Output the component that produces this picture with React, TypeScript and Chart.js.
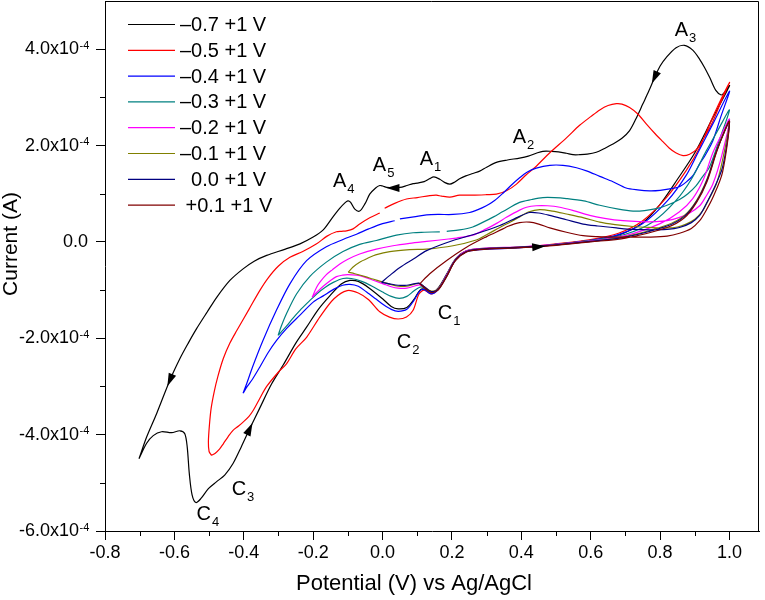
import { useEffect, useRef } from "react";
import { Chart, registerables } from "chart.js";

Chart.register(...registerables);

const FONT = '"Liberation Sans", Arial, Helvetica, sans-serif';
const AMP = 1e-4; // currents in the loops below are in units of 1e-4 A
const EN_SPACE = "\u2002";

type Pt = [number, number | null];

const seriesLabels = ["–0.7 +1 V", "–0.5 +1 V", "–0.4 +1 V", "–0.3 +1 V", "–0.2 +1 V", "–0.1 +1 V", "  0.0 +1 V", " +0.1 +1 V"];
const seriesColors = ["#000000", "#ff0000", "#0000ff", "#008080", "#ff00ff", "#808000", "#000080", "#800000"];

const xTicks = [-0.8, -0.6, -0.4, -0.2, 0, 0.2, 0.4, 0.6, 0.8, 1.0];
const xMinorTicks = [-0.7, -0.5, -0.3, -0.1, 0.1, 0.3, 0.5, 0.7, 0.9];
const yTicks = [-6, -4, -2, 0, 2, 4];
const yMinorTicks = [-5, -3, -1, 1, 3];
const yExponent = "-4";

// each loop: start vertex -> forward branch to +1 V -> reverse branch back to start
const loopM07: Pt[] = [
  [-0.702, -4.5], [-0.68, -4.18], [-0.661, -4.02], [-0.637, -3.94], [-0.608, -3.96], [-0.584, -3.92], [-0.57, -3.98],
  [-0.563, -4.26], [-0.557, -4.81], [-0.549, -5.25], [-0.538, -5.41], [-0.524, -5.33], [-0.502, -5.12], [-0.479, -4.98],
  [-0.455, -4.84], [-0.431, -4.6], [-0.407, -4.25], [-0.383, -3.88], [-0.354, -3.45], [-0.32, -2.95], [-0.286, -2.55],
  [-0.25, -2.1], [-0.219, -1.77], [-0.185, -1.4], [-0.152, -1.12], [-0.118, -0.87], [-0.094, -0.8], [-0.07, -0.82],
  [-0.04, -0.95], [0.0, -1.18], [0.025, -1.34], [0.045, -1.39], [0.07, -1.36], [0.09, -1.2], [0.108, -1.0], [0.12, -0.98],
  [0.14, -1.05], [0.16, -0.96], [0.184, -0.68], [0.21, -0.36], [0.24, -0.19], [0.28, -0.14], [0.4, -0.11], [0.45, -0.1],
  [0.5, -0.05], [0.6, 0.03], [0.68, 0.14], [0.75, 0.4], [0.8, 0.78], [0.85, 1.3], [0.9, 1.85], [0.95, 2.55], [1.0, 3.24],
  [0.985, 3.1], [0.976, 3.05], [0.96, 3.15], [0.943, 3.41], [0.928, 3.62], [0.914, 3.79], [0.894, 3.98], [0.87, 4.08],
  [0.846, 4.03], [0.818, 3.83], [0.8, 3.65], [0.784, 3.41], [0.768, 3.14], [0.75, 2.86], [0.73, 2.55], [0.712, 2.31],
  [0.69, 2.15], [0.664, 2.03], [0.64, 1.94], [0.616, 1.86], [0.59, 1.82], [0.568, 1.81], [0.549, 1.81], [0.53, 1.84],
  [0.507, 1.87], [0.487, 1.88], [0.462, 1.88], [0.443, 1.84], [0.42, 1.78], [0.395, 1.74], [0.36, 1.7], [0.328, 1.65],
  [0.3, 1.55], [0.28, 1.47], [0.26, 1.42], [0.24, 1.37], [0.222, 1.31], [0.205, 1.23], [0.194, 1.2], [0.18, 1.23],
  [0.165, 1.3], [0.148, 1.35], [0.135, 1.31], [0.12, 1.25], [0.1, 1.22], [0.088, 1.21], [0.07, 1.17], [0.05, 1.13],
  [0.03, 1.12], [0.012, 1.13], [0.0, 1.16], [-0.008, 1.17], [-0.02, 1.12], [-0.037, 0.99], [-0.05, 0.8], [-0.066, 0.64],
  [-0.08, 0.68], [-0.092, 0.82], [-0.1, 0.85], [-0.11, 0.8], [-0.123, 0.7], [-0.145, 0.5], [-0.171, 0.25], [-0.2, 0.1],
  [-0.238, -0.04], [-0.28, -0.15], [-0.334, -0.28], [-0.37, -0.4], [-0.402, -0.56], [-0.44, -0.8], [-0.478, -1.15],
  [-0.505, -1.45], [-0.536, -1.8], [-0.56, -2.1], [-0.584, -2.42], [-0.613, -2.87], [-0.651, -3.56], [-0.68, -4.05],
  [-0.702, -4.5],
];

const loopM05: Pt[] = [
  [-0.493, -4.43], [-0.483, -4.39], [-0.47, -4.3], [-0.459, -4.19], [-0.445, -4.04], [-0.431, -3.91], [-0.415, -3.82],
  [-0.402, -3.74], [-0.385, -3.62], [-0.373, -3.5], [-0.354, -3.25], [-0.334, -3.0], [-0.3, -2.7], [-0.277, -2.53],
  [-0.25, -2.22], [-0.219, -1.98], [-0.18, -1.55], [-0.14, -1.18], [-0.102, -1.01], [-0.07, -1.06], [-0.04, -1.2],
  [-0.008, -1.45], [0.02, -1.56], [0.045, -1.6], [0.069, -1.56], [0.088, -1.42], [0.105, -1.08], [0.12, -1.0],
  [0.14, -1.08], [0.16, -0.98], [0.184, -0.7], [0.21, -0.38], [0.24, -0.2], [0.28, -0.15], [0.4, -0.11], [0.5, -0.04],
  [0.6, 0.05], [0.68, 0.18], [0.75, 0.44], [0.818, 0.92], [0.875, 1.48], [0.914, 1.96], [0.952, 2.6], [1.0, 3.31],
  [0.975, 2.9], [0.952, 2.5], [0.93, 2.2], [0.905, 1.92], [0.885, 1.82], [0.866, 1.79], [0.845, 1.85], [0.826, 1.95],
  [0.808, 2.08], [0.785, 2.25], [0.76, 2.45], [0.735, 2.66], [0.712, 2.79], [0.69, 2.86], [0.674, 2.87], [0.65, 2.83],
  [0.626, 2.74], [0.6, 2.6], [0.568, 2.42], [0.53, 2.16], [0.482, 1.85], [0.44, 1.55], [0.415, 1.4], [0.386, 1.2],
  [0.357, 1.06], [0.328, 0.99], [0.3, 0.98], [0.26, 0.97], [0.222, 0.97], [0.194, 0.93], [0.17, 0.95], [0.155, 0.97],
  [0.136, 0.96], [0.1, 0.92], [0.069, 0.89], [0.035, 0.8], [0.006, 0.7], [0.0, null], [-0.008, 0.6], [-0.037, 0.5],
  [-0.066, 0.37], [-0.085, 0.27], [-0.104, 0.23], [-0.118, 0.22], [-0.133, 0.21], [-0.16, 0.12], [-0.19, -0.04],
  [-0.23, -0.2], [-0.267, -0.32], [-0.3, -0.5], [-0.33, -0.75], [-0.354, -1.01], [-0.385, -1.4], [-0.421, -1.85],
  [-0.44, -2.1], [-0.459, -2.42], [-0.475, -2.8], [-0.485, -3.1], [-0.494, -3.45], [-0.499, -3.8], [-0.502, -4.15],
  [-0.5, -4.35], [-0.493, -4.43],
];

const loopM04: Pt[] = [
  [-0.402, -3.14], [-0.39, -3.0], [-0.375, -2.85], [-0.354, -2.6], [-0.33, -2.3], [-0.306, -2.05], [-0.277, -1.8],
  [-0.238, -1.52], [-0.2, -1.25], [-0.171, -1.12], [-0.14, -0.98], [-0.115, -0.9], [-0.094, -0.88], [-0.07, -0.92],
  [-0.046, -1.04], [-0.02, -1.18], [0.002, -1.3], [0.025, -1.4], [0.045, -1.44], [0.07, -1.4], [0.09, -1.22],
  [0.107, -1.02], [0.12, -0.99], [0.14, -1.08], [0.16, -0.99], [0.184, -0.7], [0.21, -0.38], [0.24, -0.21],
  [0.28, -0.16], [0.4, -0.12], [0.5, -0.05], [0.6, 0.03], [0.68, 0.15], [0.75, 0.38], [0.822, 0.86], [0.875, 1.38],
  [0.909, 1.85], [0.952, 2.45], [1.0, 3.13],
  [0.975, 2.6], [0.952, 2.1], [0.93, 1.8], [0.914, 1.62], [0.895, 1.38], [0.875, 1.24], [0.857, 1.15], [0.837, 1.11],
  [0.8, 1.07], [0.77, 1.06], [0.735, 1.08], [0.702, 1.12], [0.664, 1.25], [0.626, 1.36], [0.59, 1.47], [0.559, 1.54],
  [0.52, 1.59], [0.482, 1.59], [0.443, 1.53], [0.415, 1.44], [0.395, 1.33], [0.37, 1.17], [0.347, 1.01], [0.323, 0.86],
  [0.299, 0.75], [0.275, 0.67], [0.251, 0.61], [0.203, 0.57], [0.16, 0.57], [0.127, 0.56], [0.09, 0.52], [0.05, 0.48],
  [0.042, null], [0.035, 0.44], [0.0, 0.38], [-0.04, 0.27], [-0.075, 0.16], [-0.114, 0.05], [-0.162, -0.1],
  [-0.219, -0.39], [-0.267, -0.87], [-0.306, -1.42], [-0.345, -2.05], [-0.375, -2.6], [-0.392, -2.95], [-0.402, -3.14],
];

const loopM03: Pt[] = [
  [-0.301, -1.94], [-0.29, -1.85], [-0.277, -1.75], [-0.258, -1.58], [-0.238, -1.42], [-0.21, -1.22], [-0.19, -1.08],
  [-0.165, -0.94], [-0.142, -0.84], [-0.114, -0.76], [-0.09, -0.76], [-0.06, -0.82], [-0.03, -0.92], [0.0, -1.04],
  [0.025, -1.13], [0.048, -1.17], [0.07, -1.13], [0.09, -1.02], [0.107, -0.94], [0.12, -0.95], [0.14, -1.05],
  [0.16, -0.98], [0.184, -0.7], [0.21, -0.37], [0.24, -0.2], [0.28, -0.15], [0.4, -0.11], [0.5, -0.05], [0.6, 0.03],
  [0.7, 0.16], [0.78, 0.42], [0.846, 0.86], [0.89, 1.3], [0.933, 1.89], [0.965, 2.3], [1.0, 2.74],
  [0.97, 2.1], [0.942, 1.55], [0.922, 1.35], [0.904, 1.17], [0.88, 1.0], [0.856, 0.88], [0.82, 0.76], [0.789, 0.69],
  [0.755, 0.65], [0.722, 0.64], [0.68, 0.68], [0.626, 0.76], [0.58, 0.85], [0.53, 0.9], [0.495, 0.92], [0.462, 0.92],
  [0.43, 0.88], [0.395, 0.82], [0.347, 0.63], [0.32, 0.52], [0.29, 0.41], [0.26, 0.31], [0.222, 0.25], [0.185, 0.22],
  [0.175, null], [0.165, 0.21], [0.12, 0.2], [0.088, 0.19], [0.04, 0.14], [0.012, 0.09], [-0.018, 0.03],
  [-0.066, -0.05], [-0.114, -0.2], [-0.162, -0.42], [-0.21, -0.72], [-0.248, -1.08], [-0.277, -1.49], [-0.292, -1.75],
  [-0.301, -1.94],
];

const loopM02: Pt[] = [
  [-0.203, -1.15], [-0.19, -1.05], [-0.171, -0.92], [-0.15, -0.8], [-0.133, -0.72], [-0.115, -0.69], [-0.1, -0.68],
  [-0.075, -0.69], [-0.056, -0.72], [-0.025, -0.8], [0.002, -0.87], [0.025, -0.93], [0.045, -0.96], [0.07, -0.96],
  [0.09, -0.92], [0.107, -0.89], [0.12, -0.93], [0.14, -1.03], [0.16, -0.98], [0.184, -0.7], [0.21, -0.37],
  [0.24, -0.19], [0.28, -0.14], [0.4, -0.1], [0.5, -0.05], [0.6, 0.02], [0.7, 0.13], [0.8, 0.38], [0.855, 0.62],
  [0.894, 0.9], [0.925, 1.3], [0.952, 1.85], [0.975, 2.2], [1.0, 2.55],
  [0.978, 1.8], [0.952, 1.2], [0.93, 0.92], [0.914, 0.75], [0.885, 0.6], [0.856, 0.51], [0.82, 0.44], [0.789, 0.42],
  [0.74, 0.42], [0.693, 0.44], [0.64, 0.49], [0.597, 0.55], [0.55, 0.65], [0.511, 0.72], [0.475, 0.75], [0.443, 0.75],
  [0.415, 0.72], [0.395, 0.66], [0.357, 0.51], [0.33, 0.39], [0.299, 0.27], [0.26, 0.14], [0.213, 0.08], [0.19, 0.06],
  [0.127, 0.01], [0.078, -0.03], [0.03, -0.08], [-0.018, -0.15], [-0.066, -0.25], [-0.1, -0.36], [-0.123, -0.46],
  [-0.145, -0.58], [-0.162, -0.68], [-0.18, -0.83], [-0.19, -0.94], [-0.203, -1.15],
];

const loopM01: Pt[] = [
  [-0.099, -0.63], [-0.08, -0.66], [-0.05, -0.72], [-0.028, -0.77], [0.0, -0.83], [0.021, -0.88], [0.045, -0.92],
  [0.07, -0.92], [0.09, -0.88], [0.105, -0.86], [0.12, -0.93], [0.14, -1.02], [0.16, -0.98], [0.184, -0.72],
  [0.21, -0.38], [0.242, -0.2], [0.28, -0.15], [0.4, -0.11], [0.5, -0.06], [0.6, 0.01], [0.7, 0.11], [0.82, 0.35],
  [0.87, 0.55], [0.905, 0.86], [0.935, 1.3], [0.962, 1.89], [0.98, 2.2], [1.0, 2.5],
  [0.98, 1.7], [0.962, 1.2], [0.94, 0.88], [0.923, 0.65], [0.9, 0.47], [0.875, 0.37], [0.85, 0.31], [0.818, 0.29],
  [0.77, 0.3], [0.722, 0.32], [0.67, 0.36], [0.626, 0.41], [0.58, 0.5], [0.53, 0.58], [0.49, 0.64], [0.453, 0.67],
  [0.42, 0.62], [0.395, 0.52], [0.37, 0.42], [0.338, 0.3], [0.3, 0.15], [0.27, 0.04], [0.203, -0.08], [0.127, -0.15],
  [0.078, -0.16], [0.021, -0.2], [-0.02, -0.27], [-0.04, -0.33], [-0.066, -0.42], [-0.085, -0.52], [-0.099, -0.63],
];

const loop000: Pt[] = [
  [-0.003, -0.84], [0.02, -0.87], [0.045, -0.9], [0.07, -0.9], [0.09, -0.87], [0.107, -0.86], [0.12, -0.93],
  [0.14, -1.03], [0.16, -0.99], [0.184, -0.72], [0.21, -0.38], [0.242, -0.2], [0.28, -0.15], [0.4, -0.11],
  [0.5, -0.06], [0.6, 0.01], [0.7, 0.1], [0.82, 0.33], [0.87, 0.53], [0.905, 0.84], [0.935, 1.28], [0.962, 1.87],
  [0.98, 2.2], [1.0, 2.5],
  [0.98, 1.55], [0.952, 1.06], [0.93, 0.75], [0.914, 0.55], [0.89, 0.4], [0.856, 0.3], [0.82, 0.26], [0.77, 0.25],
  [0.72, 0.26], [0.674, 0.29], [0.62, 0.33], [0.578, 0.37], [0.53, 0.46], [0.482, 0.55], [0.45, 0.6], [0.424, 0.61],
  [0.395, 0.53], [0.338, 0.34], [0.27, 0.17], [0.203, 0.03], [0.127, -0.18], [0.09, -0.35], [0.05, -0.53],
  [0.02, -0.7], [-0.003, -0.84],
];

const loopP01: Pt[] = [
  [0.107, -0.87], [0.12, -0.95], [0.14, -1.05], [0.16, -1.0], [0.184, -0.73], [0.21, -0.39], [0.242, -0.21],
  [0.28, -0.16], [0.4, -0.12], [0.5, -0.07], [0.6, 0.0], [0.7, 0.08], [0.82, 0.3], [0.87, 0.5], [0.905, 0.82],
  [0.935, 1.25], [0.962, 1.85], [0.98, 2.2], [1.0, 2.5],
  [0.98, 1.45], [0.952, 0.92], [0.93, 0.62], [0.914, 0.44], [0.89, 0.28], [0.856, 0.18], [0.82, 0.12], [0.77, 0.1],
  [0.72, 0.1], [0.674, 0.1], [0.62, 0.11], [0.578, 0.13], [0.53, 0.2], [0.482, 0.29], [0.45, 0.37], [0.424, 0.41],
  [0.395, 0.4], [0.36, 0.32], [0.347, 0.27], [0.3, 0.11], [0.242, -0.11], [0.184, -0.39], [0.136, -0.66],
  [0.107, -0.87],
];

const loops = [loopM07, loopM05, loopM04, loopM03, loopM02, loopM01, loop000, loopP01];

// peak labels: letter, subscript, potential (V), current (1e-4 A) of the letter's baseline-left corner
const peakLabels: [string, string, number, number][] = [
  ["A", "3", 0.842, 4.28], ["A", "2", 0.375, 2.06], ["A", "1", 0.107, 1.6], ["A", "5", -0.028, 1.48],
  ["A", "4", -0.143, 1.13], ["C", "1", 0.159, -1.59], ["C", "2", 0.041, -2.21], ["C", "3", -0.435, -5.26],
  ["C", "4", -0.536, -5.78],
];

// scan-direction arrows on the –0.7 V loop (snap to the nearest point of that loop)
const arrowMarks: [number, number][] = [[0.784, 3.41], [0.45, -0.1], [0.03, 1.12], [-0.613, -2.87], [-0.383, -3.88]];

const mantissa = (v: number) => Math.round((v / AMP) * 10) / 10;

const decor = {
  id: "cvDecor",
  afterDraw(chart: any) {
    const { ctx, chartArea: a, scales } = chart;
    const xs = scales.x;
    const ys = scales.y;
    ctx.save();
    ctx.strokeStyle = "#000";
    ctx.fillStyle = "#000";
    ctx.lineWidth = 1;
    // frame top and right
    const top = Math.round(a.top) + 0.5;
    const right = Math.round(a.right) - 0.5;
    ctx.beginPath();
    ctx.moveTo(a.left, top);
    ctx.lineTo(right, top);
    ctx.lineTo(right, a.bottom);
    ctx.stroke();
    // minor ticks
    ctx.beginPath();
    for (const v of xMinorTicks) {
      const px = Math.round(xs.getPixelForValue(v)) + 0.5;
      ctx.moveTo(px, a.bottom);
      ctx.lineTo(px, a.bottom + 5);
    }
    for (const v of yMinorTicks) {
      const py = Math.round(ys.getPixelForValue(v * AMP)) + 0.5;
      ctx.moveTo(a.left - 5, py);
      ctx.lineTo(a.left, py);
    }
    ctx.stroke();

    // exponents of the y tick labels (the tick label itself ends with an en space)
    ctx.font = `18px ${FONT}`;
    const gap = ctx.measureText(EN_SPACE).width;
    const labelRight = a.left - 9 - 8;
    ctx.font = `11px ${FONT}`;
    ctx.textAlign = "left";
    ctx.textBaseline = "alphabetic";
    for (const t of ys.ticks) {
      if (mantissa(t.value) === 0) continue;
      const py = ys.getPixelForValue(t.value);
      ctx.fillText(yExponent, labelRight - gap + 0.5, py - 0.5);
    }

    // arrows
    const meta = chart.getDatasetMeta(0);
    const els = meta.data;
    for (const [ex, ey] of arrowMarks) {
      const tx = xs.getPixelForValue(ex);
      const ty = ys.getPixelForValue(ey * AMP);
      let best = 1;
      let bd = Infinity;
      for (let i = 1; i < els.length - 1; i++) {
        const d = (els[i].x - tx) ** 2 + (els[i].y - ty) ** 2;
        if (d < bd) { bd = d; best = i; }
      }
      const p = els[best];
      const dx = els[best + 1].x - els[best - 1].x;
      const dy = els[best + 1].y - els[best - 1].y;
      const L = Math.hypot(dx, dy) || 1;
      const ux = dx / L, uy = dy / L;
      const len = 13, hw = 4;
      const tipX = p.x + ux * len * 0.5, tipY = p.y + uy * len * 0.5;
      const bx = p.x - ux * len * 0.5, by = p.y - uy * len * 0.5;
      ctx.beginPath();
      ctx.moveTo(tipX, tipY);
      ctx.lineTo(bx - uy * hw, by + ux * hw);
      ctx.lineTo(bx + uy * hw, by - ux * hw);
      ctx.closePath();
      ctx.fill();
    }

    // peak labels
    ctx.textAlign = "left";
    ctx.textBaseline = "alphabetic";
    for (const [main, sub, ex, ey] of peakLabels) {
      const px = xs.getPixelForValue(ex);
      const py = ys.getPixelForValue(ey * AMP);
      ctx.font = `20px ${FONT}`;
      ctx.fillText(main, px, py);
      const w = ctx.measureText(main).width;
      ctx.font = `13px ${FONT}`;
      ctx.fillText(sub, px + w + 1, py + 6);
    }

    // legend
    ctx.font = `20px ${FONT}`;
    ctx.textBaseline = "middle";
    chart.data.datasets.forEach((ds: any, i: number) => {
      const ry = 24.5 + i * 25.8;
      ctx.strokeStyle = ds.borderColor;
      ctx.lineWidth = 1.2;
      ctx.beginPath();
      ctx.moveTo(128, ry);
      ctx.lineTo(175, ry);
      ctx.stroke();
      ctx.fillStyle = "#000";
      ctx.fillText(ds.label, 180, ry + 1);
    });

    // axis titles
    ctx.fillStyle = "#000";
    ctx.font = `22px ${FONT}`;
    ctx.textAlign = "center";
    ctx.textBaseline = "alphabetic";
    ctx.fillText("Potential (V) vs Ag/AgCl", 414, 590);
    ctx.font = `21px ${FONT}`;
    ctx.translate(17, 244);
    ctx.rotate(-Math.PI / 2);
    ctx.fillText("Current (A)", 0, 0);
    ctx.restore();
  },
};

export default function App() {
  const ref = useRef<HTMLCanvasElement>(null);
  useEffect(() => {
    const canvas = ref.current;
    if (!canvas) return;
    const chart = new Chart(canvas, {
      type: "scatter",
      data: {
        datasets: loops.map((pts, i) => ({
          label: seriesLabels[i],
          data: pts.map(([x, y]) => ({ x, y: y === null ? null : y * AMP })),
          showLine: true,
          borderColor: seriesColors[i],
          backgroundColor: seriesColors[i],
          borderWidth: 1.2,
          pointRadius: 0,
          pointHoverRadius: 0,
          tension: 0.3,
          spanGaps: false,
          order: loops.length - i,
        })),
      },
      options: {
        responsive: false,
        animation: false,
        devicePixelRatio: 1,
        events: [],
        layout: { padding: { top: 1, right: 6, left: 0, bottom: 0 } },
        plugins: { legend: { display: false }, tooltip: { enabled: false } },
        scales: {
          x: {
            type: "linear",
            position: "bottom",
            min: -0.8,
            max: 1.085,
            afterBuildTicks: (s: any) => { s.ticks = xTicks.map((v) => ({ value: v })); },
            afterFit: (s: any) => { s.height = 69; s.paddingLeft = 0; s.paddingRight = 0; },
            ticks: {
              color: "#000",
              font: { family: FONT, size: 18 },
              padding: 2,
              maxRotation: 0,
              autoSkip: false,
              callback: (v: any) => Number(v).toFixed(1),
            },
            grid: { drawOnChartArea: false, drawTicks: true, tickLength: 9, tickColor: "#000", tickWidth: 1 },
            border: { display: true, color: "#000", width: 1 },
          },
          y: {
            type: "linear",
            min: -6 * AMP,
            max: 5 * AMP,
            afterBuildTicks: (s: any) => { s.ticks = yTicks.map((v) => ({ value: v * AMP })); },
            afterFit: (s: any) => { s.width = 105; s.paddingTop = 0; s.paddingBottom = 0; },
            ticks: {
              color: "#000",
              font: { family: FONT, size: 18 },
              padding: 8,
              autoSkip: false,
              callback: (v: any) => {
                const m = mantissa(Number(v));
                return m === 0 ? "0.0" : `${m.toFixed(1)}x10${EN_SPACE}`;
              },
            },
            grid: { drawOnChartArea: false, drawTicks: true, tickLength: 9, tickColor: "#000", tickWidth: 1 },
            border: { display: true, color: "#000", width: 1 },
          },
        },
      },
      plugins: [decor],
    } as any);
    return () => chart.destroy();
  }, []);
  return (
    <div style={{ position: "absolute", left: 0, top: 0, width: 765, height: 600, background: "#fff" }}>
      <canvas ref={ref} width={765} height={600} style={{ display: "block", width: 765, height: 600 }} />
    </div>
  );
}
